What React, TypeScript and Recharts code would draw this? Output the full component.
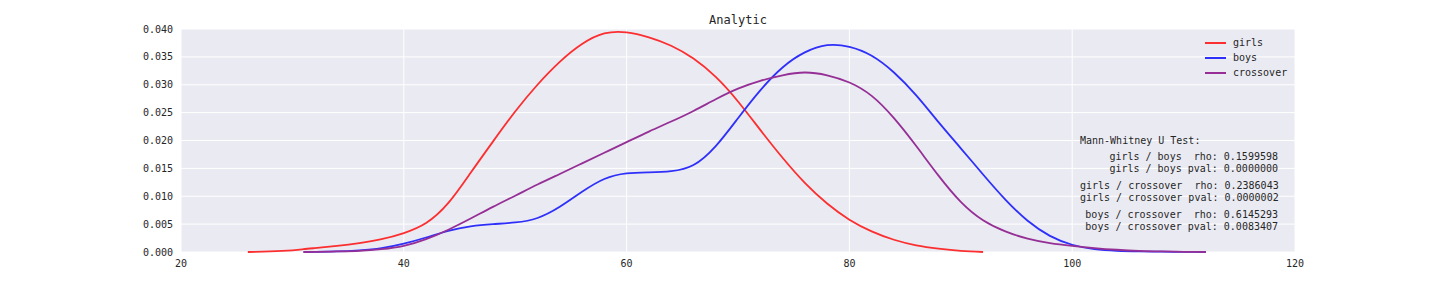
import React from "react";
import { LineChart, Line, XAxis, YAxis, CartesianGrid, Legend } from "recharts";

const xs = [
  26, 28, 30, 31, 32, 34, 36, 38, 40, 42, 44, 46, 48, 50, 52, 54, 56, 58, 60, 62, 64, 66,
  68, 70, 72, 74, 76, 78, 80, 82, 84, 86, 88, 90, 92, 94, 96, 98, 100, 102, 104, 106, 108,
  110, 112,
];

const girls = [
  0, 0.0001, 0.0003, 0.0005, 0.0007, 0.0011, 0.0016, 0.0023, 0.0034, 0.0052, 0.0088, 0.0142,
  0.0198, 0.0252, 0.03, 0.0341, 0.0373, 0.0392, 0.0394, 0.0385, 0.037, 0.0347, 0.0314, 0.027,
  0.0219, 0.0169, 0.0124, 0.0087, 0.0058, 0.0037, 0.0022, 0.0012, 0.0006, 0.0002, 0, null,
  null, null, null, null, null, null, null, null, null,
];

const boys = [
  null, null, null, 0, 0.00003, 0.0001, 0.0003, 0.0007, 0.0015, 0.0026, 0.0038, 0.0046,
  0.005, 0.0053, 0.0061, 0.0081, 0.0108, 0.0131, 0.0141, 0.0143, 0.0145, 0.0156, 0.019,
  0.024, 0.029, 0.0331, 0.0358, 0.0371, 0.0368, 0.0352, 0.0322, 0.0281, 0.0233, 0.0186,
  0.0139, 0.0094, 0.0056, 0.0029, 0.0013, 0.0005, 0.0002, 0.0001, 0.00005, 0.00002, 0,
];

const crossover = [
  null, null, null, 0, 0.00002, 0.0001, 0.0002, 0.0005, 0.0011, 0.0023, 0.004, 0.006,
  0.0081, 0.0101, 0.0121, 0.014, 0.0159, 0.0178, 0.0197, 0.0216, 0.0234, 0.0253, 0.0274,
  0.0293, 0.0307, 0.0317, 0.0322, 0.0317, 0.0304, 0.028, 0.024, 0.019, 0.0137, 0.009,
  0.0057, 0.0037, 0.0024, 0.0016, 0.0011, 0.0007, 0.0004, 0.0002, 0.0001, 0.00004, 0,
];

const seriesNames = ["girls", "boys", "crossover"];
const xTicks = [20, 40, 60, 80, 100, 120];
const yTicks = [0, 0.005, 0.01, 0.015, 0.02, 0.025, 0.03, 0.035, 0.04];

const statsTitle = "Mann-Whitney U Test:";
const statsGroups = [
  ["girls / boys  rho: 0.1599598", "girls / boys pval: 0.0000000"],
  ["girls / crossover  rho: 0.2386043", "girls / crossover pval: 0.0000002"],
  ["boys / crossover  rho: 0.6145293", "boys / crossover pval: 0.0083407"],
];

const data = xs.map((x, i) => ({
  x,
  girls: girls[i],
  boys: boys[i],
  crossover: crossover[i],
}));

const mono = "'DejaVu Sans Mono', monospace";
const textColor = "#262626";

const LegendBox = (props: any) => {
  const items = [...(props.payload || [])].sort(
    (a: any, b: any) => seriesNames.indexOf(a.value) - seriesNames.indexOf(b.value)
  );
  return (
    <div style={{ fontFamily: mono, fontSize: 10, color: textColor }}>
      {items.map((p: any) => (
        <div key={p.value} style={{ height: 15, display: "flex", alignItems: "center" }}>
          <svg width={22} height={4} style={{ marginRight: 6 }}>
            <line x1={0} y1={2} x2={21} y2={2} stroke={p.color} strokeWidth={2} />
          </svg>
          <span>{p.value}</span>
        </div>
      ))}
    </div>
  );
};

export default function App() {
  return (
    <div style={{ position: "absolute", left: 0, top: 0, width: 1440, height: 288 }}>
      <div
        style={{
          position: "absolute",
          left: 0,
          width: 1476,
          top: 12,
          textAlign: "center",
          fontFamily: mono,
          fontSize: 12,
          color: textColor,
          lineHeight: "16px",
        }}
      >
        Analytic
      </div>
      <LineChart
        width={1440}
        height={288}
        data={data}
        margin={{ top: 29, right: 145, bottom: 0, left: 0 }}
      >
        <CartesianGrid fill="#EAEAF2" stroke="#ffffff" strokeWidth={1} />
        <XAxis
          type="number"
          dataKey="x"
          domain={[20, 120]}
          ticks={xTicks}
          height={36}
          axisLine={false}
          tickLine={false}
          tickSize={0}
          tickMargin={8}
          tick={{ fill: textColor, fontSize: 10, fontFamily: mono }}
        />
        <YAxis
          type="number"
          domain={[0, 0.04]}
          ticks={yTicks}
          width={181}
          axisLine={false}
          tickLine={false}
          tickSize={0}
          tickMargin={8}
          tickFormatter={(v: number) => v.toFixed(3)}
          tick={{ fill: textColor, fontSize: 10, fontFamily: mono }}
        />
        <Legend
          layout="vertical"
          align="center"
          verticalAlign="middle"
          wrapperStyle={{ top: 35, left: 1205, width: 100 }}
          content={<LegendBox />}
        />
        <Line
          type="natural"
          dataKey="girls"
          name="girls"
          stroke="#fb2f30"
          strokeWidth={1.8}
          dot={false}
          connectNulls={false}
          isAnimationActive={false}
        />
        <Line
          type="natural"
          dataKey="boys"
          name="boys"
          stroke="#2f2ffa"
          strokeWidth={1.8}
          dot={false}
          connectNulls={false}
          isAnimationActive={false}
        />
        <Line
          type="natural"
          dataKey="crossover"
          name="crossover"
          stroke="#952f96"
          strokeWidth={1.8}
          dot={false}
          connectNulls={false}
          isAnimationActive={false}
        />
      </LineChart>
      <div
        style={{
          position: "absolute",
          left: 1080,
          top: 135,
          width: 198,
          fontFamily: mono,
          fontSize: 10,
          color: textColor,
          lineHeight: "12px",
          whiteSpace: "pre",
        }}
      >
        <div style={{ textAlign: "left" }}>{statsTitle}</div>
        {statsGroups.map((g, gi) => (
          <div key={gi} style={{ marginTop: gi === 0 ? 4 : 5, textAlign: "right" }}>
            {g.map((line) => (
              <div key={line}>{line}</div>
            ))}
          </div>
        ))}
      </div>
    </div>
  );
}
